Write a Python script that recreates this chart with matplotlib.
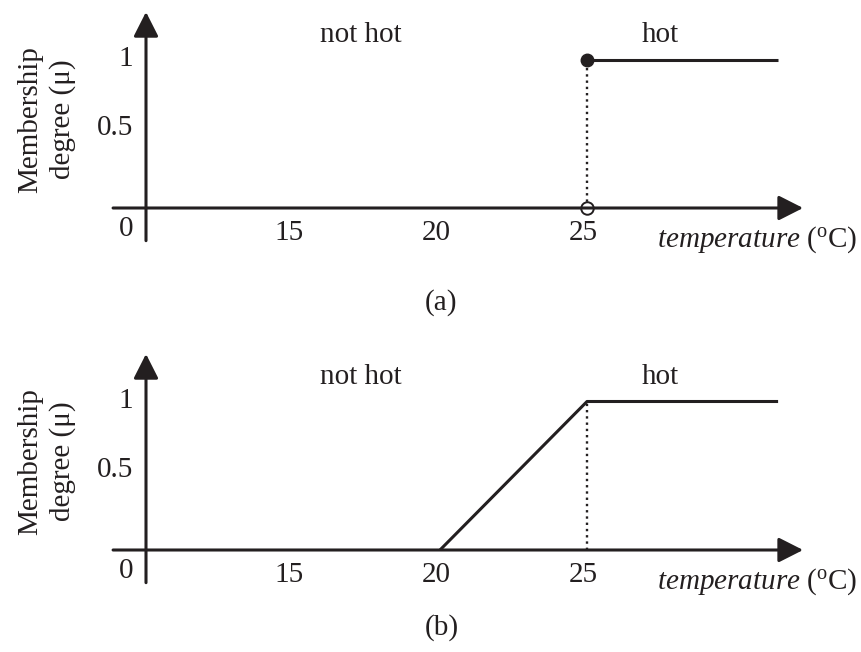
import matplotlib
matplotlib.use("Agg")
import matplotlib.pyplot as plt

plt.rcParams['font.family'] = ['Liberation Serif', 'DejaVu Serif']
plt.rcParams['mathtext.fontset'] = 'custom'
plt.rcParams['mathtext.rm'] = 'Liberation Serif'
plt.rcParams['mathtext.it'] = 'Liberation Serif:italic'

# membership data
x_ticks = [15, 20, 25]
y_ticks = [1, 0.5]
hot_a_x = [25, 31.5]          # crisp set: hot for T >= 25
hot_a_y = [1, 1]
hot_b_x = [20, 25, 31.5]      # fuzzy set: ramp from 20 to 25
hot_b_y = [0, 1, 1]
set_names = ["not hot", "hot"]
set_name_x = [17.3, 27.5]
panel_tags = ["(a)", "(b)"]

ink = '#231f20'
fs = 21
W, H = 861, 652
px_x = 29.4      # pixels per degree
px_y = 148.5     # pixels per membership unit
x_origin_px = 146

fig = plt.figure(figsize=(W / 100, H / 100), dpi=100)


def make_panel(top, bottom, axis_row):
    # axes spanning rows top..bottom of the figure, with y=0 at axis_row
    ax = fig.add_axes([0, 1 - bottom / H, 1, (bottom - top) / H])
    ax.set_xlim(10 - x_origin_px / px_x, 10 + (W - x_origin_px) / px_x)
    ax.set_ylim((axis_row - bottom) / px_y, (axis_row - top) / px_y)
    ax.axis('off')
    return ax


def draw_axes(ax):
    arrow = dict(arrowstyle='-|>,head_length=0.75,head_width=0.38',
                 mutation_scale=20, lw=2.2, color=ink, shrinkA=0, shrinkB=0)
    ax.annotate('', xy=(32.35, 0), xytext=(8.88, 0), arrowprops=arrow)
    ax.annotate('', xy=(10, 1.32), xytext=(10, -0.22), arrowprops=arrow)
    for t in x_ticks:
        ax.text(t - 0.12, -0.17, str(t), fontsize=fs, ha='center', va='center', color=ink)
    for t in y_ticks:
        ax.text(9.57, t + (0.04 if t == 0.5 else 0), str(t), fontsize=fs,
                ha='right', va='center', color=ink)
    ax.text(9.57, -0.14, "0", fontsize=fs, ha='right', va='center', color=ink)
    ax.text(27.38, -0.215, r'$\mathit{temperature}$ ($^{\rm o}$C)', fontsize=fs,
            ha='left', va='center', color=ink)
    ax.text(6.62, 0.595, "Membership\ndegree (\u03bc)", fontsize=fs, rotation=90,
            ha='center', va='center', color=ink, linespacing=1.3)
    for name, x in zip(set_names, set_name_x):
        ax.text(x, 1.165, name, fontsize=fs, ha='center', va='center', color=ink)


# (a) crisp set
ax1 = make_panel(0, 326, 208)
draw_axes(ax1)
ax1.plot([25, 25], [0, 1], ls=':', lw=1.7, color=ink)
ax1.plot(hot_a_x, hot_a_y, lw=2.2, color=ink, solid_capstyle='butt')
ax1.plot(25, 1, 'o', ms=9, color=ink)
ax1.plot(25, 0, 'o', ms=9, mfc='white', mec=ink, mew=1.4)
ax1.text(20.05, -0.635, panel_tags[0], fontsize=fs, ha='center', va='center', color=ink)

# (b) fuzzy set
ax2 = make_panel(326, 652, 550)
draw_axes(ax2)
ax2.plot([25, 25], [0, 1], ls=':', lw=1.7, color=ink)
ax2.plot(hot_b_x, hot_b_y, lw=2.2, color=ink, solid_capstyle='butt')
ax2.text(20.05, -0.525, panel_tags[1], fontsize=fs, ha='center', va='center', color=ink)

fig.savefig("out.png", dpi=100)
